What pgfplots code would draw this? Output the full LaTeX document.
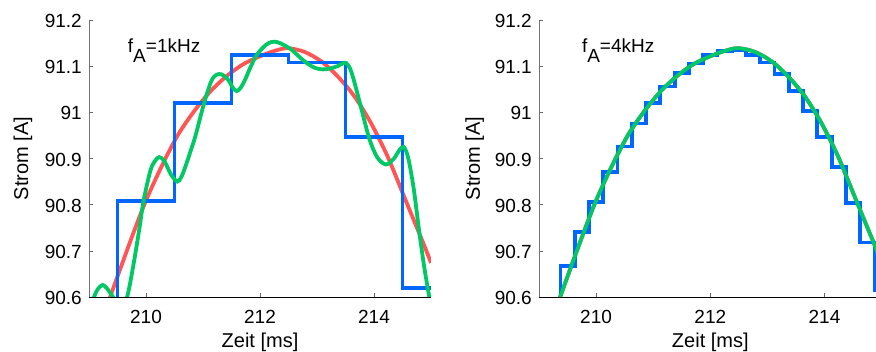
\documentclass[border=0pt]{standalone}
\usepackage{fontspec}
\setmainfont{Liberation Sans}
\usepackage{pgfplots}
\pgfplotsset{compat=1.18}

\definecolor{sigred}{RGB}{255,85,85}
\definecolor{holdblue}{RGB}{0,102,255}
\definecolor{recgreen}{RGB}{0,200,100}

% original current (same trace in both panels)
\pgfplotstableread{
t y
209.25 90.560
209.37 90.600
209.69 90.709
209.98 90.803
210.27 90.882
210.56 90.951
210.86 91.005
211.15 91.048
211.44 91.081
211.73 91.106
212.05 91.124
212.28 91.134
212.49 91.139
212.78 91.131
213.08 91.110
213.37 91.077
213.66 91.034
213.95 90.976
214.24 90.904
214.53 90.817
214.77 90.745
214.88 90.712
215.00 90.674
}\signal

\pgfplotsset{
  panel/.style={
    scale only axis, height=277pt,
    xmin=209, ymin=90.6, ymax=91.2,
    axis x line*=bottom, axis y line*=left,
    x axis line style={-, black, line width=0.8pt},
    y axis line style={-, black!55, line width=0.8pt},
    xtick={210,212,214}, xticklabels={210,212,214},
    ytick={90.6,90.7,90.8,90.9,91.0,91.1,91.2},
    yticklabels={90.6,90.7,90.8,90.9,91,91.1,91.2},
    tick align=inside, major tick length=3.5pt,
    tick style={black!60, line width=0.6pt},
    /pgf/number format/assume math mode=true,
    tick label style={font=\fontsize{19}{19}\selectfont, inner sep=0pt},
    xticklabel style={anchor=base, yshift=-26.3pt},
    yticklabel style={anchor=base east, xshift=-7pt, yshift=-7.5pt},
    label style={font=\fontsize{20}{20}\selectfont},
    xlabel={Zeit [ms]}, ylabel={Strom [A]},
    clip=true,
  },
  sig/.style={sigred, line width=3.8pt, smooth},
  hold/.style={holdblue, line width=3.8pt, const plot},
  rec/.style={recgreen, line width=3.8pt, smooth},
}

\newcommand{\fA}[1]{f\raisebox{-10pt}{A}=#1}

\begin{document}
\begin{tikzpicture}

% sampling at 1 kHz
\begin{axis}[panel, at={(89pt,54pt)}, anchor=south west,
  width=342pt, xmax=215,
  xlabel style={at={(axis description cs:0.5,0)}, anchor=base, yshift=-50.7pt},
  ylabel style={at={(axis description cs:-0.178,0.5)}, anchor=base}]
\addplot[sig] table[x=t,y=y] {\signal};
\addplot[hold] coordinates {
(208.5,90.400) (209.5,90.808) (210.5,91.020) (211.5,91.125)
(212.5,91.108) (213.5,90.946) (214.5,90.619) (215.5,90.619)};
\addplot[rec] coordinates {
(209.00,90.555) (209.09,90.600) (209.16,90.618) (209.24,90.626)
(209.32,90.618) (209.43,90.598) (209.55,90.575) (209.67,90.601)
(209.78,90.670) (209.88,90.745) (209.96,90.810) (210.08,90.875)
(210.16,90.895) (210.23,90.903) (210.32,90.895) (210.44,90.865)
(210.55,90.850) (210.62,90.860) (210.69,90.882) (210.78,90.915)
(210.87,90.950) (211.01,91.016) (211.13,91.063) (211.20,91.078)
(211.28,91.083) (211.36,91.080) (211.45,91.069) (211.52,91.054)
(211.59,91.046) (211.66,91.053) (211.74,91.071) (211.83,91.097)
(211.93,91.122) (212.05,91.140) (212.15,91.150) (212.25,91.153)
(212.35,91.150) (212.54,91.137) (212.70,91.119) (212.84,91.105)
(212.97,91.096) (213.10,91.093) (213.23,91.095) (213.36,91.100)
(213.45,91.106) (213.51,91.107) (213.58,91.095) (213.65,91.068)
(213.77,91.012) (213.92,90.942) (214.06,90.902) (214.21,90.887)
(214.35,90.900) (214.45,90.919) (214.52,90.925) (214.57,90.914)
(214.62,90.890) (214.70,90.832) (214.79,90.745) (214.88,90.666)
(214.97,90.600) (215.02,90.570)};
\node[anchor=base west, inner sep=0pt, font=\fontsize{19}{19}\selectfont]
  at (axis cs:209.68,91.13) {\fA{1kHz}};
\end{axis}

% sampling at 4 kHz
\begin{axis}[panel, at={(539pt,54pt)}, anchor=south west,
  width=338pt, xmax=214.92,
  xlabel style={at={(axis description cs:0.5068,0)}, anchor=base, yshift=-50.7pt},
  ylabel style={at={(axis description cs:-0.1746,0.5)}, anchor=base}]
\addplot[sig] table[x=t,y=y] {\signal};
\addplot[hold] coordinates {
(209.125,90.450) (209.375,90.668) (209.625,90.740) (209.875,90.806)
(210.125,90.870) (210.375,90.926) (210.625,90.976) (210.875,91.020)
(211.125,91.056) (211.375,91.085) (211.625,91.106) (211.875,91.124)
(212.125,91.133) (212.375,91.134) (212.625,91.124) (212.875,91.108)
(213.125,91.083) (213.375,91.047) (213.625,91.003) (213.875,90.947)
(214.125,90.882) (214.375,90.804) (214.625,90.718) (214.875,90.615)
(215.125,90.615)};
\addplot[rec] table[x=t,y=y] {\signal};
\node[anchor=base west, inner sep=0pt, font=\fontsize{19}{19}\selectfont]
  at (axis cs:209.75,91.13) {\fA{4kHz}};
\end{axis}

\pgfresetboundingbox
\path (0,0) rectangle (876pt,351pt);
\end{tikzpicture}
\end{document}
